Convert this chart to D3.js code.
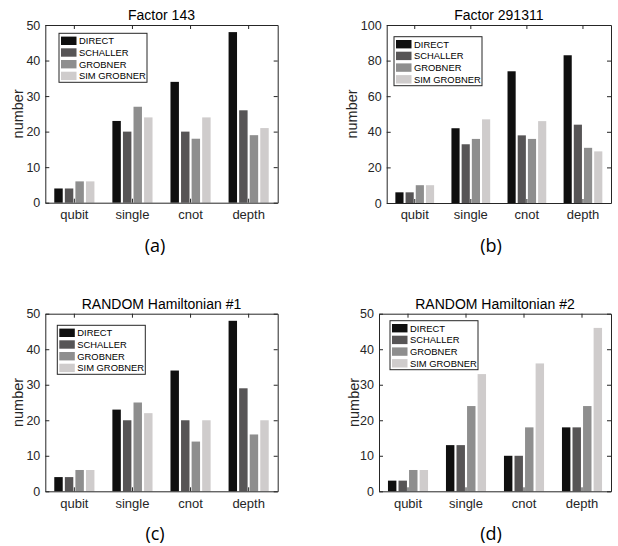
<!DOCTYPE html>
<html>
<head>
<meta charset="utf-8">
<script src="https://cdn.jsdelivr.net/npm/d3@7"></script>
<style>
  body { margin: 0; background: #fff; }
  svg { display: block; }
  .tick text { font-family: "Liberation Sans", Arial, sans-serif; fill: #262626; }
  .domain { stroke: #262626; }
  .tick line { stroke: #262626; }
</style>
</head>
<body>
<div id="chart"></div>
<script>
// categories and series
var categories = ["qubit", "single", "cnot", "depth"];
var methods = ["DIRECT", "SCHALLER", "GROBNER", "SIM GROBNER"];
var methodColors = ["#0f0f0f", "#575556", "#8e8e8e", "#cfcccc"];

// values per method, one entry per category
var factor143 = [
    [4, 23, 34, 48],
    [4, 20, 20, 26],
    [6, 27, 18, 19],
    [6, 24, 24, 21]
];
var factor291311 = [
    [6, 42, 74, 83],
    [6, 33, 38, 44],
    [10, 36, 36, 31],
    [10, 47, 46, 29]
];
var random1 = [
    [4, 23, 34, 48],
    [4, 20, 20, 29],
    [6, 25, 14, 16],
    [6, 22, 20, 20]
];
var random2 = [
    [3, 13, 10, 18],
    [3, 13, 10, 18],
    [6, 24, 18, 24],
    [6, 33, 36, 46]
];

var titles = ["Factor 143", "Factor 291311", "RANDOM Hamiltonian #1", "RANDOM Hamiltonian #2"];
var captions = ["(a)", "(b)", "(c)", "(d)"];
var yMaxes = [50, 100, 50, 50];
var yTicks = [
    [0, 10, 20, 30, 40, 50],
    [0, 20, 40, 60, 80, 100],
    [0, 10, 20, 30, 40, 50],
    [0, 10, 20, 30, 40, 50]
];
var panelData = [factor143, factor291311, random1, random2];

// layout of each subplot (pixel boxes)
var layout = [
    {left: 45.3, right: 277.7, top: 25,    bottom: 202.7, ylabX: 23.3,  capX: 155, capY: 251.5, legX: 59,  legY: 33.3},
    {left: 386.7, right: 611,  top: 25,    bottom: 203,   ylabX: 357.3, capX: 491, capY: 251.5, legX: 394, legY: 36.7},
    {left: 45.3, right: 277.7, top: 313.7, bottom: 491.3, ylabX: 23.3,  capX: 155, capY: 540,   legX: 57.3, legY: 325.3},
    {left: 379,  right: 611,   top: 313.7, bottom: 491.3, ylabX: 359,   capX: 491, capY: 540,   legX: 390, legY: 320.7}
];

var svg = d3.select("#chart").append("svg")
    .attr("width", 618)
    .attr("height", 546);

function drawPanel(i) {
    var L = layout[i];
    var data = panelData[i];
    var g = svg.append("g");

    var x = d3.scaleBand()
        .domain(categories)
        .range([L.left, L.right])
        .paddingInner(0)
        .paddingOuter(0);

    // matlab grouped bar: group width = n/(n+1.5) of the slot
    var groupWidth = x.bandwidth() * methods.length / (methods.length + 1.5);
    var xs = d3.scaleBand()
        .domain(d3.range(methods.length))
        .range([-groupWidth / 2, groupWidth / 2])
        .paddingInner(0.2)
        .paddingOuter(0.1);

    var y = d3.scaleLinear()
        .domain([0, yMaxes[i]])
        .range([L.bottom, L.top]);

    // bars
    methods.forEach(function(m, mi) {
        g.selectAll(".bar-" + mi)
            .data(data[mi])
            .enter()
          .append("rect")
            .attr("x", function(d, ci) { return x(categories[ci]) + x.bandwidth() / 2 + xs(mi); })
            .attr("width", xs.bandwidth())
            .attr("y", function(d) { return y(d); })
            .attr("height", function(d) { return y(0) - y(d); })
            .attr("fill", methodColors[mi]);
    });

    // axes (matlab box with inward ticks)
    var left = g.append("g")
        .attr("transform", "translate(" + L.left + ",0)")
        .call(d3.axisLeft(y).tickValues(yTicks[i]).tickSizeInner(-4).tickSizeOuter(0).tickPadding(5));
    left.selectAll("text").style("font-size", "12.5px");

    g.append("g")
        .attr("transform", "translate(" + L.right + ",0)")
        .call(d3.axisRight(y).tickValues(yTicks[i]).tickSizeInner(-4).tickSizeOuter(0).tickFormat(""));

    var bottom = g.append("g")
        .attr("transform", "translate(0," + L.bottom + ")")
        .call(d3.axisBottom(x).tickSizeInner(-4).tickSizeOuter(0).tickPadding(7));
    bottom.selectAll("text").style("font-size", "13px");

    g.append("g")
        .attr("transform", "translate(0," + L.top + ")")
        .call(d3.axisTop(x).tickSizeInner(-4).tickSizeOuter(0).tickFormat(""));

    g.selectAll(".domain").attr("stroke-width", 1);

    // title
    g.append("text")
        .attr("x", (L.left + L.right) / 2)
        .attr("y", L.top - 5)
        .attr("text-anchor", "middle")
        .style("font-family", "Liberation Sans, Arial, sans-serif")
        .style("font-size", "14px")
        .style("fill", "#000")
        .text(titles[i]);

    // y label
    g.append("text")
        .attr("transform", "translate(" + L.ylabX + "," + ((L.top + L.bottom) / 2) + ") rotate(-90)")
        .attr("text-anchor", "middle")
        .style("font-family", "Liberation Sans, Arial, sans-serif")
        .style("font-size", "14.5px")
        .style("fill", "#262626")
        .text("number");

    // caption
    g.append("text")
        .attr("x", L.capX)
        .attr("y", L.capY)
        .attr("text-anchor", "middle")
        .style("font-family", "Open Sans, sans-serif")
        .style("font-size", "18px")
        .style("fill", "#000")
        .text(captions[i]);

    // legend
    var leg = g.append("g")
        .attr("transform", "translate(" + L.legX + "," + L.legY + ")");
    leg.append("rect")
        .attr("width", 88)
        .attr("height", 49)
        .attr("fill", "#fff")
        .attr("stroke", "#262626")
        .attr("stroke-width", 1);
    methods.forEach(function(m, mi) {
        var cy = 7.5 + mi * 11.7;
        leg.append("rect")
            .attr("x", 2)
            .attr("y", cy - 4.2)
            .attr("width", 15.5)
            .attr("height", 8.4)
            .attr("fill", methodColors[mi]);
        leg.append("text")
            .attr("x", 20)
            .attr("y", cy + 3.4)
            .style("font-family", "Liberation Sans, Arial, sans-serif")
            .style("font-size", "9.4px")
            .style("fill", "#000")
            .text(m);
    });
}

for (var i = 0; i < 4; i++) drawPanel(i);
</script>
</body>
</html>
